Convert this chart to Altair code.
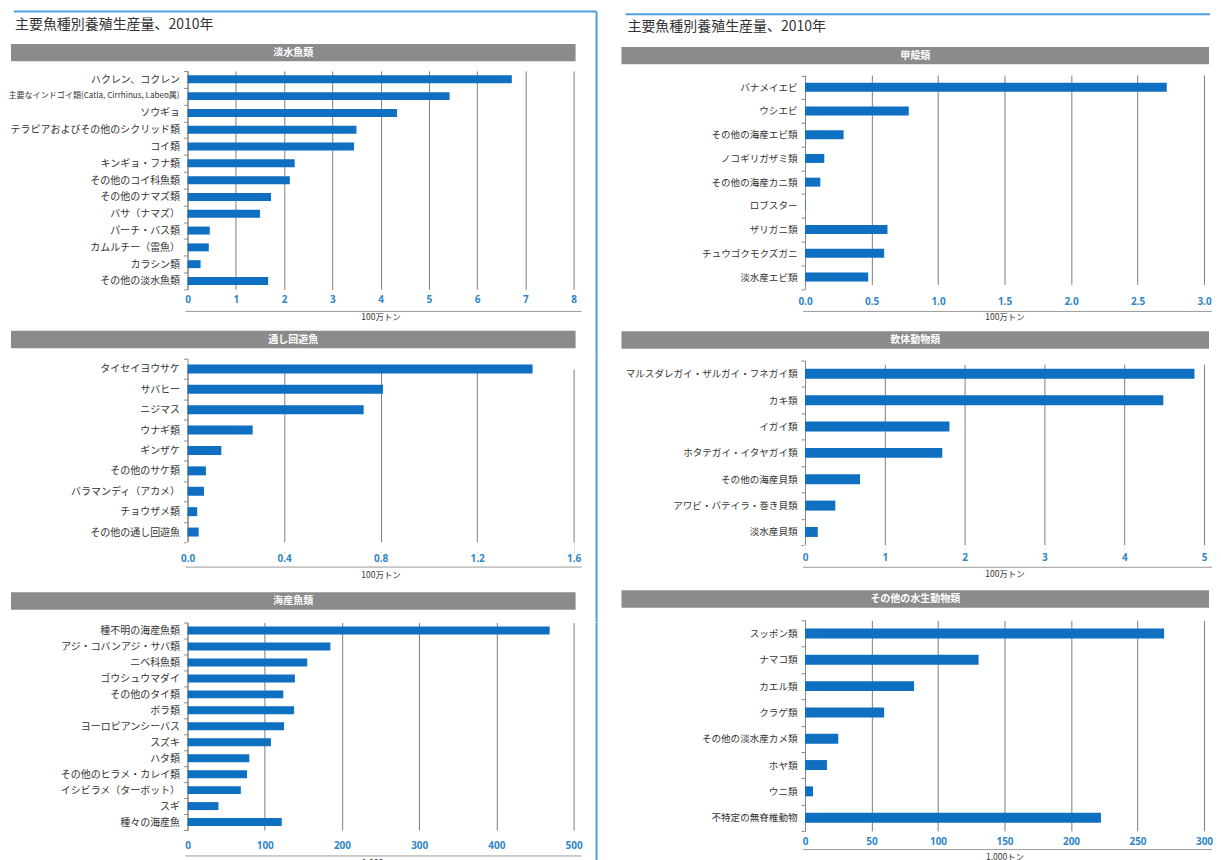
import altair as alt
import pandas as pd

FONT = "Noto Sans CJK JP"
NUMFONT = "Open Sans"
BAR = "#0f6fc0"
TICKLBL = "#2f86c8"
GRID = "#707070"
HDR = "#8b8b8b"
FRAME = "#4d9fdc"
TXT = "#333333"

MAIN_TITLE = "主要魚種別養殖生産量、2010年"

# ---- data ----
fw_names = ["ハクレン、コクレン", "主要なインドゴイ類(Catla, Cirrhinus, Labeo属)", "ソウギョ",
            "テラピアおよびその他のシクリッド類", "コイ類", "キンギョ・フナ類", "その他のコイ科魚類",
            "その他のナマズ類", "バサ（ナマズ）", "パーチ・バス類", "カムルチー（雷魚）", "カラシン類",
            "その他の淡水魚類"]
fw_vals = [6.72, 5.43, 4.34, 3.50, 3.45, 2.22, 2.12, 1.73, 1.50, 0.46, 0.44, 0.27, 1.67]
SMALL_LABEL = fw_names[1]

dia_names = ["タイセイヨウサケ", "サバヒー", "ニジマス", "ウナギ類", "ギンザケ", "その他のサケ類",
             "バラマンディ（アカメ）", "チョウザメ類", "その他の通し回遊魚"]
dia_vals = [1.43, 0.81, 0.73, 0.27, 0.14, 0.076, 0.068, 0.040, 0.046]

mar_names = ["種不明の海産魚類", "アジ・コバンアジ・サバ類", "ニベ科魚類", "ゴウシュウマダイ", "その他のタイ類",
             "ボラ類", "ヨーロピアンシーバス", "スズキ", "ハタ類", "その他のヒラメ・カレイ類",
             "イシビラメ（ターボット）", "スギ", "種々の海産魚"]
mar_vals = [469, 185, 155, 139, 124, 138, 125, 108, 80, 77, 69, 40, 122]

cru_names = ["バナメイエビ", "ウシエビ", "その他の海産エビ類", "ノコギリガザミ類", "その他の海産カニ類",
             "ロブスター", "ザリガニ類", "チュウゴクモクズガニ", "淡水産エビ類"]
cru_vals = [2.72, 0.78, 0.29, 0.145, 0.115, 0.004, 0.62, 0.595, 0.475]

mol_names = ["マルスダレガイ・ザルガイ・フネガイ類", "カキ類", "イガイ類", "ホタテガイ・イタヤガイ類",
             "その他の海産貝類", "アワビ・バテイラ・巻き貝類", "淡水産貝類"]
mol_vals = [4.88, 4.49, 1.81, 1.72, 0.69, 0.38, 0.16]

oth_names = ["スッポン類", "ナマコ類", "カエル類", "クラゲ類", "その他の淡水産カメ類", "ホヤ類", "ウニ類",
             "不特定の無脊椎動物"]
oth_vals = [270, 130.5, 82, 59.5, 25, 16.5, 6, 222.5]

headers = ["淡水魚類", "通し回遊魚", "海産魚類", "甲殻類", "軟体動物類", "その他の水生動物類"]
ticks_fw = [0, 1, 2, 3, 4, 5, 6, 7, 8]
ticks_dia = [0, 0.4, 0.8, 1.2, 1.6]
ticks_mar = [0, 100, 200, 300, 400, 500]
ticks_cru = [0, 0.5, 1.0, 1.5, 2.0, 2.5, 3.0]
ticks_mol = [0, 1, 2, 3, 4, 5]
ticks_oth = [0, 50, 100, 150, 200, 250, 300]
unit_m = "100万トン"
unit_k = "1,000トン"

ONE = pd.DataFrame({"k": [0]})


def deco(mark, **enc):
    return alt.Chart(ONE).mark_rule(**mark).encode(**enc)


def panel(names, vals, header, W, cell_top, band_top, band_h, cell_h, label_c, uline_abs,
          title_c, hdr_top, hdr_x0, hdr_x1, ticks, fmt, xtitle, bar_size, lab_font, lab_limit,
          left_x, right_x, right_color, span, extra=None):
    off = band_top - cell_top
    lp = label_c - 5.5 - (cell_top + cell_h)
    tp = (title_c - 4.5) - (label_c + 4.5)
    df = pd.DataFrame({"name": names, "value": vals})
    bars = alt.Chart(df).mark_bar(color=BAR, size=bar_size).encode(
        x=alt.X("value:Q",
                scale=alt.Scale(domain=[ticks[0], ticks[-1]], nice=False, zero=True),
                axis=alt.Axis(values=ticks, format=fmt, grid=True, gridColor=GRID,
                              gridWidth=0.9, domain=False, ticks=False,
                              labelColor=TICKLBL, labelFont=NUMFONT, labelFontWeight="bold",
                              labelFontSize=10, labelPadding=lp, labelFlush=False,
                              title=xtitle, titleFont=FONT, titleFontSize=8.5,
                              titleFontWeight="normal", titleColor=TXT, titlePadding=tp)),
        y=alt.Y("name:N", sort=names,
                scale=alt.Scale(range=[off, off + band_h], paddingInner=0, paddingOuter=0),
                axis=alt.Axis(title=None, domainColor="#8a8a8a", domainWidth=1,
                              tickColor="#8a8a8a", tickBand="extent", tickSize=4,
                              labelFont=FONT, labelFontSize=lab_font,
                              labelExpr="datum.value == '" + SMALL_LABEL + "' ? '' : datum.label",
                              labelColor=TXT, labelPadding=4, labelLimit=lab_limit, grid=False)),
    )
    hy = hdr_top - cell_top
    hdr_rect = alt.Chart(ONE).mark_rect(color=HDR).encode(
        x=alt.value(hdr_x0), x2=alt.value(W + hdr_x1),
        y=alt.value(hy), y2=alt.value(hy + 17.5))
    hdr_text = alt.Chart(ONE).mark_text(color="white", font=FONT, fontWeight="bold",
                                        fontSize=10, align="center", baseline="middle").encode(
        x=alt.value((hdr_x0 + W + hdr_x1) / 2), y=alt.value(hy + 9),
        text=alt.value(header))
    uline = deco({"color": "#9a9a9a", "strokeWidth": 1},
                 x=alt.value(-2), x2=alt.value(W + 8), y=alt.value(uline_abs - cell_top))
    left_edge = deco({"color": "white", "strokeWidth": 1},
                     x=alt.value(left_x), y=alt.value(span[0]), y2=alt.value(min(span[1], 0)))
    right_edge = deco({"color": right_color, "strokeWidth": 2},
                      x=alt.value(right_x), y=alt.value(span[0]), y2=alt.value(span[1]))
    layers = [left_edge, right_edge, hdr_rect, hdr_text, uline]
    # white covers keep gridlines inside the band area only
    if off > 0:
        layers.append(alt.Chart(ONE).mark_rect(color="white").encode(
            x=alt.value(-1), x2=alt.value(W + 1), y=alt.value(0), y2=alt.value(off)))
    if cell_h > off + band_h:
        layers.append(alt.Chart(ONE).mark_rect(color="white").encode(
            x=alt.value(-1), x2=alt.value(W + 1), y=alt.value(off + band_h), y2=alt.value(cell_h)))
    layers.append(bars)
    if SMALL_LABEL in names:
        sdf = pd.DataFrame({"name": [SMALL_LABEL]})
        layers.append(alt.Chart(sdf).mark_text(font=FONT, fontSize=8.1, color=TXT, align="right",
                                               baseline="middle").encode(
            y=alt.Y("name:N", sort=names), x=alt.value(-8), text="name:N"))
    if extra:
        layers += extra
    return alt.layer(*layers).properties(width=W, height=cell_h)


def top_extra(tx, ty, ly, lx0, lx1):
    t = alt.Chart(ONE).mark_text(font=FONT, fontSize=14, color=TXT, align="left",
                                 baseline="middle").encode(
        x=alt.value(tx), y=alt.value(ty), text=alt.value(MAIN_TITLE))
    line = deco({"color": FRAME, "strokeWidth": 2},
                x=alt.value(lx0), x2=alt.value(lx1), y=alt.value(ly))
    return [t, line]


WL = 387
WR = 400
S_L = 69.5
S_R = 71.4
TOP = 69.6

p_l1 = panel(fw_names, fw_vals, headers[0], WL, TOP, TOP, 219, 219, 299.3, 310.7, 316, 42.5,
             -177, 2, ticks_fw, "d", unit_m, 8, 10, 172, -179, 410, FRAME,
             (-59.6, 219 + S_L), extra=top_extra(-173, 24 - TOP, 10 - TOP, -174, 410))
p_l2 = panel(dia_names, dia_vals, headers[1], WL, 358.1, 358.1, 184, 194.4, 558.7, 567, 575, 330,
             -177, 2, ticks_dia, ".1f", unit_m, 9, 10, 172, -179, 410, FRAME,
             (0, 194.4 + S_L))
p_l3 = panel(mar_names, mar_vals, headers[2], WL, 622, 622, 208, 208, 845.7, 856, 863, 591.7,
             -177, 2, ticks_mar, "d", unit_k, 8, 10, 172, -179, 410, FRAME,
             (0, 250))

p_r1 = panel(cru_names, cru_vals, headers[3], WR, TOP, 74.1, 214, 218.5, 301, 310.7, 316, 45.5,
             -184, 5, ticks_cru, ".1f", unit_m, 9, 9.6, 176, -184, WR + 6, "white",
             (-59.6, 0), extra=top_extra(628 - 806, 26 - TOP, 12.7 - TOP, -180, WR + 6))
p_r2 = panel(mol_names, mol_vals, headers[4], WR, 359.5, 359.5, 185, 188.6, 557.3, 566.7, 573.3,
             330, -184, 5, ticks_mol, "d", unit_m, 10, 9.6, 176, -184, WR + 6, "white",
             (0, 0))
p_r3 = panel(oth_names, oth_vals, headers[5], WR, 619.5, 619.5, 211, 211, 841.7, 849.3, 856.7,
             589.3, -184, 5, ticks_oth, "d", unit_k, 10, 9.6, 176, -184, WR + 6, "white",
             (0, 0))

left = alt.vconcat(p_l1, p_l2, p_l3, spacing=S_L, bounds="flush")
right = alt.vconcat(p_r1, p_r2, p_r3, spacing=S_R, bounds="flush")

chart = alt.hconcat(left, right, spacing=23).properties(
    padding={"left": 0, "top": 1, "right": 0, "bottom": 0}
).configure_view(stroke=None)

chart.save("out.html", embed_options={"renderer": "svg", "actions": False})
